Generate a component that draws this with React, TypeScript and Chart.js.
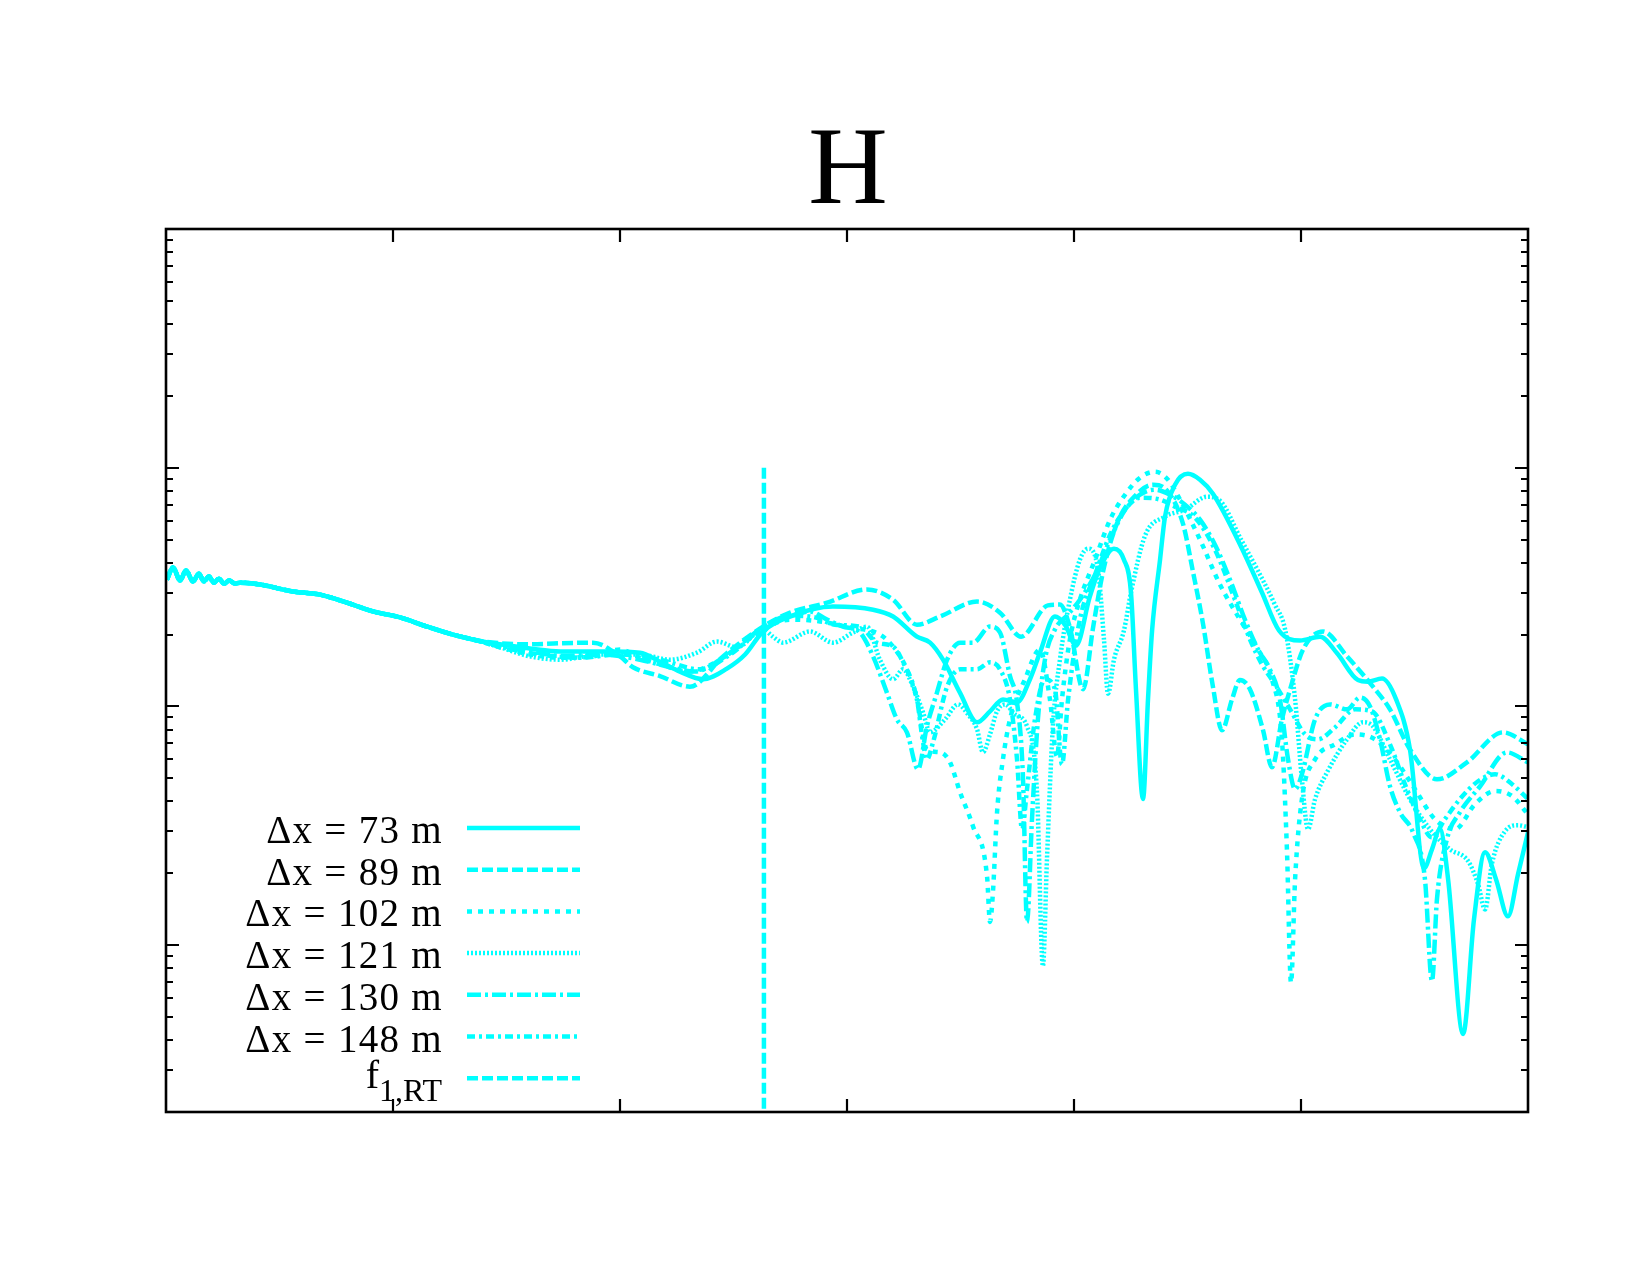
import React, { useEffect, useRef } from "react";
import { Chart, registerables } from "chart.js";

Chart.register(...registerables);

// ---- labels ----
const titleText = "H";
const seriesLabels = ["Δx = 73 m", "Δx = 89 m", "Δx = 102 m", "Δx = 121 m", "Δx = 130 m", "Δx = 148 m"];
const markerLabelMain = "f";
const markerLabelSub = "1,RT";

// ---- axis ranges / ticks ----
const xMin = 0;
const xMax = 6;
const xMajorTicks = [1, 2, 3, 4, 5];
const yMin = 0.2;
const yMax = 1000;
const yDecades = [0.1, 1, 10, 100];

// ---- shared low-frequency part (all runs coincide here) ----
const sharedX = [0.004, 0.031, 0.062, 0.088, 0.119, 0.145, 0.167, 0.189, 0.211, 0.233, 0.256, 0.278, 0.304, 0.326, 0.414, 0.559, 0.678, 0.797, 0.912, 1.031, 1.150, 1.264, 1.370];
const sharedY = [34.0, 38.2, 33.7, 37.1, 33.4, 36.0, 33.4, 35.0, 33.0, 34.3, 32.7, 33.7, 32.7, 33.0, 32.4, 30.3, 29.4, 27.2, 25.0, 23.6, 21.6, 20.0, 18.9];

// ---- Δx = 73 m ----
const dx73X = [1.471, 1.604, 1.736, 1.956, 2.088, 2.176, 2.264, 2.366, 2.471, 2.551, 2.630, 2.749, 2.938, 3.115, 3.203, 3.308, 3.366, 3.423, 3.498, 3.573, 3.630, 3.687, 3.749, 3.806, 3.850, 3.916, 3.960, 4.009, 4.070, 4.115, 4.176, 4.220, 4.251, 4.273, 4.304, 4.326, 4.344, 4.379, 4.401, 4.445, 4.502, 4.555, 4.612, 4.736, 4.828, 4.903, 4.996, 5.084, 5.159, 5.251, 5.295, 5.357, 5.419, 5.480, 5.542, 5.577, 5.612, 5.648, 5.714, 5.762, 5.811, 5.859, 5.912, 5.956, 6.000];
const dx73Y = [18.2, 17.5, 17.0, 17.0, 16.8, 15.4, 14.0, 13.0, 14.4, 16.5, 20.6, 23.8, 26.2, 25.4, 23.8, 19.6, 18.5, 15.7, 11.4, 8.58, 9.54, 10.7, 10.4, 13.0, 16.8, 23.8, 22.0, 18.0, 28.9, 38.2, 45.8, 41.2, 30.0, 11.8, 4.09, 10.7, 20.8, 41.2, 62.4, 84.9, 94.4, 89.1, 77.8, 46.7, 30.0, 20.8, 18.9, 19.6, 16.7, 12.9, 12.7, 13.1, 10.7, 6.61, 2.10, 2.52, 3.06, 1.89, 0.424, 1.28, 2.45, 1.89, 1.32, 1.98, 2.97];

// ---- Δx = 89 m ----
const dx89X = [1.471, 1.590, 1.736, 1.881, 2.000, 2.057, 2.176, 2.308, 2.454, 2.630, 2.749, 2.912, 3.088, 3.203, 3.308, 3.410, 3.573, 3.674, 3.767, 3.885, 3.938, 3.982, 4.040, 4.084, 4.128, 4.189, 4.278, 4.348, 4.410, 4.480, 4.524, 4.568, 4.612, 4.652, 4.696, 4.731, 4.775, 4.833, 4.872, 4.916, 4.952, 5.009, 5.097, 5.203, 5.317, 5.392, 5.480, 5.599, 5.731, 5.890, 6.000];
const dx89Y = [18.4, 18.2, 18.4, 18.5, 16.2, 14.6, 13.4, 12.1, 16.2, 21.6, 24.7, 27.2, 30.9, 28.0, 22.0, 23.8, 27.5, 24.7, 19.6, 26.5, 26.7, 21.4, 11.8, 21.4, 36.7, 58.3, 77.8, 84.9, 80.1, 58.3, 36.7, 22.3, 12.1, 7.94, 10.7, 12.9, 11.8, 7.94, 5.56, 8.83, 11.8, 17.3, 20.6, 16.2, 12.1, 9.72, 6.61, 4.95, 5.83, 7.79, 6.94];

// ---- Δx = 102 m ----
const dx102X = [1.471, 1.604, 1.736, 1.881, 2.000, 2.088, 2.176, 2.308, 2.441, 2.630, 2.749, 2.881, 3.013, 3.145, 3.203, 3.264, 3.308, 3.352, 3.410, 3.454, 3.498, 3.555, 3.617, 3.630, 3.643, 3.661, 3.687, 3.718, 3.784, 3.850, 3.894, 3.925, 3.947, 3.982, 4.026, 4.093, 4.159, 4.225, 4.291, 4.357, 4.414, 4.467, 4.555, 4.643, 4.731, 4.811, 4.872, 4.916, 4.938, 4.956, 4.974, 5.004, 5.062, 5.150, 5.238, 5.326, 5.414, 5.502, 5.590, 5.678, 5.767, 5.855, 5.930, 6.000];
const dx102Y = [17.7, 16.5, 16.0, 16.2, 17.3, 16.0, 15.0, 14.0, 15.7, 21.0, 23.1, 22.7, 21.4, 20.0, 17.8, 14.3, 10.7, 6.61, 6.42, 5.83, 4.37, 3.15, 1.94, 1.25, 1.67, 3.60, 6.00, 8.83, 13.0, 17.3, 10.7, 6.18, 10.7, 19.1, 28.0, 41.2, 60.6, 77.1, 90.8, 96.2, 89.1, 73.5, 50.0, 32.4, 23.1, 17.3, 13.0, 7.28, 2.52, 0.695, 1.89, 4.09, 6.00, 6.94, 7.64, 7.28, 6.00, 4.50, 3.37, 3.06, 3.90, 4.42, 4.21, 3.53];

// ---- Δx = 121 m ----
const dx121X = [1.471, 1.604, 1.736, 1.912, 2.088, 2.220, 2.339, 2.427, 2.515, 2.630, 2.674, 2.718, 2.837, 2.938, 3.026, 3.088, 3.145, 3.203, 3.247, 3.291, 3.335, 3.366, 3.432, 3.489, 3.533, 3.573, 3.599, 3.630, 3.661, 3.696, 3.740, 3.793, 3.837, 3.863, 3.881, 3.907, 3.938, 3.982, 4.026, 4.062, 4.106, 4.132, 4.150, 4.176, 4.220, 4.251, 4.313, 4.401, 4.489, 4.586, 4.643, 4.736, 4.819, 4.885, 4.930, 4.974, 5.004, 5.031, 5.062, 5.115, 5.203, 5.273, 5.317, 5.392, 5.480, 5.568, 5.656, 5.736, 5.780, 5.811, 5.841, 5.899, 5.956, 6.000];
const dx121Y = [17.7, 16.2, 15.7, 16.5, 16.5, 15.7, 16.8, 18.7, 17.7, 21.0, 19.6, 18.5, 20.6, 18.5, 20.4, 21.6, 15.7, 13.0, 14.3, 12.1, 9.44, 7.79, 8.83, 10.2, 9.26, 8.01, 6.42, 7.64, 9.54, 10.2, 9.26, 8.25, 4.37, 0.818, 2.30, 8.25, 15.7, 28.0, 41.2, 45.8, 37.4, 19.1, 11.3, 15.7, 20.8, 30.0, 51.9, 62.4, 66.7, 75.6, 72.8, 50.0, 35.7, 26.7, 21.0, 10.7, 4.95, 3.06, 4.09, 5.30, 7.28, 8.58, 8.25, 6.00, 4.09, 3.06, 2.52, 2.25, 1.80, 1.41, 2.19, 3.00, 3.18, 3.12];

// ---- Δx = 130 m ----
const dx130X = [1.471, 1.604, 1.736, 1.912, 2.088, 2.220, 2.330, 2.441, 2.630, 2.749, 2.837, 2.912, 2.982, 3.057, 3.115, 3.176, 3.220, 3.264, 3.313, 3.352, 3.396, 3.441, 3.498, 3.555, 3.630, 3.674, 3.718, 3.749, 3.775, 3.793, 3.815, 3.841, 3.872, 3.916, 3.974, 4.026, 4.093, 4.159, 4.225, 4.291, 4.357, 4.423, 4.489, 4.555, 4.621, 4.687, 4.753, 4.811, 4.863, 4.907, 4.943, 4.974, 5.004, 5.062, 5.128, 5.203, 5.260, 5.304, 5.348, 5.392, 5.436, 5.493, 5.546, 5.577, 5.599, 5.643, 5.700, 5.789, 5.907, 6.000];
const dx130Y = [18.0, 17.0, 16.3, 16.5, 15.7, 14.6, 14.0, 15.7, 21.4, 23.8, 25.0, 23.1, 21.6, 20.4, 16.2, 11.4, 8.83, 7.79, 5.45, 8.25, 11.4, 15.7, 18.5, 18.5, 21.6, 20.4, 13.4, 10.4, 5.10, 1.25, 3.37, 8.83, 15.7, 21.0, 24.3, 28.0, 35.7, 50.0, 66.7, 77.1, 80.9, 77.1, 70.0, 60.6, 47.6, 34.0, 23.1, 17.3, 14.3, 10.7, 6.00, 4.50, 5.20, 8.83, 10.2, 9.72, 10.9, 10.0, 7.28, 4.63, 3.60, 2.97, 1.89, 0.708, 1.56, 2.78, 3.60, 4.63, 6.42, 5.83];

// ---- Δx = 148 m ----
const dx148X = [1.471, 1.648, 1.824, 2.000, 2.176, 2.352, 2.485, 2.630, 2.749, 2.859, 2.947, 3.057, 3.132, 3.203, 3.247, 3.308, 3.335, 3.352, 3.379, 3.441, 3.498, 3.573, 3.630, 3.674, 3.718, 3.749, 3.771, 3.793, 3.828, 3.872, 3.916, 3.947, 3.974, 4.026, 4.093, 4.159, 4.225, 4.291, 4.379, 4.445, 4.533, 4.621, 4.709, 4.775, 4.828, 4.885, 4.952, 5.018, 5.075, 5.150, 5.238, 5.313, 5.392, 5.458, 5.524, 5.577, 5.634, 5.700, 5.780, 5.855, 5.930, 6.000];
const dx148Y = [17.8, 16.5, 16.0, 16.5, 15.7, 14.3, 16.5, 21.4, 24.0, 23.6, 22.0, 21.6, 18.5, 17.8, 15.3, 10.7, 7.07, 6.00, 7.07, 12.1, 14.3, 14.3, 15.3, 14.3, 10.7, 6.00, 3.06, 4.50, 8.83, 13.0, 11.8, 5.72, 10.7, 23.1, 35.7, 52.4, 66.7, 74.9, 73.5, 68.7, 61.8, 45.4, 28.0, 19.1, 15.0, 12.4, 9.72, 7.64, 7.28, 8.17, 9.72, 9.54, 6.94, 4.72, 3.37, 2.83, 3.37, 4.09, 4.86, 5.20, 4.72, 4.09];

// ---- f_1,RT marker ----
const f1X = [2.634, 2.634];
const f1Y = [100, 0.2];

// ---- styles ----
const CYAN = "rgb(0,255,255)";
const seriesDashes = [[], [11, 4], [5, 6], [2, 2], [14, 4, 3, 4], [8, 4, 3, 4]];
const markerDash = [11, 4];

const seriesX = [dx73X, dx89X, dx102X, dx121X, dx130X, dx148X];
const seriesY = [dx73Y, dx89Y, dx102Y, dx121Y, dx130Y, dx148Y];

function toPoints(xs: number[], ys: number[]) {
  return xs.map((x, i) => ({ x, y: ys[i] }));
}

const SERIF = '"Liberation Serif", "DejaVu Serif", serif';

const gnuplotPlugin = {
  id: "gnuplotDecor",
  afterDraw(chart: any) {
    const { ctx, chartArea: a, scales } = chart;
    const xs = scales.x;
    const ys = scales.y;
    ctx.save();
    ctx.setLineDash([]);
    ctx.strokeStyle = "#000";
    ctx.lineCap = "butt";

    // y ticks (inside, mirrored)
    ctx.lineWidth = 2.2;
    for (const dec of yDecades) {
      for (let m = 1; m <= 9; m++) {
        const v = m * dec;
        if (v <= yMin + 1e-9 || v >= yMax - 1e-9) continue;
        const py = Math.round(ys.getPixelForValue(v));
        const len = m === 1 ? 13 : 7;
        ctx.beginPath();
        ctx.moveTo(a.left, py);
        ctx.lineTo(a.left + len, py);
        ctx.moveTo(a.right, py);
        ctx.lineTo(a.right - len, py);
        ctx.stroke();
      }
    }
    // x ticks
    for (const v of xMajorTicks) {
      const px = Math.round(xs.getPixelForValue(v));
      ctx.beginPath();
      ctx.moveTo(px, a.bottom);
      ctx.lineTo(px, a.bottom - 13);
      ctx.moveTo(px, a.top);
      ctx.lineTo(px, a.top + 13);
      ctx.stroke();
    }
    // frame
    ctx.lineWidth = 2.6;
    ctx.strokeRect(a.left, a.top, a.right - a.left, a.bottom - a.top);

    // title
    ctx.fillStyle = "#000";
    ctx.font = "110px " + SERIF;
    ctx.textAlign = "center";
    ctx.textBaseline = "alphabetic";
    ctx.fillText(titleText, (a.left + a.right) / 2 + 1, 203);

    // legend
    const textRight = 442;
    const lineX0 = 467;
    const lineX1 = 580;
    const rowY0 = 828;
    const rowStep = 41.7;
    const datasets = chart.data.datasets;
    for (let i = 0; i < datasets.length; i++) {
      const ds = datasets[i];
      const cy = rowY0 + i * rowStep;
      ctx.fillStyle = "#000";
      ctx.textAlign = "right";
      if (i < seriesLabels.length) {
        ctx.font = "39px " + SERIF;
        (ctx as any).letterSpacing = "1.3px";
        ctx.fillText(ds.label, textRight + 1, cy + 15);
        (ctx as any).letterSpacing = "0px";
      } else {
        ctx.font = "32px " + SERIF;
        const subW = ctx.measureText(markerLabelSub).width;
        ctx.fillText(markerLabelSub, textRight, cy + 23);
        ctx.font = "40px " + SERIF;
        ctx.fillText(markerLabelMain, textRight - subW, cy + 10);
      }
      ctx.strokeStyle = CYAN;
      ctx.lineWidth = 4.5;
      ctx.setLineDash(ds.borderDash || []);
      ctx.beginPath();
      ctx.moveTo(lineX0, cy);
      ctx.lineTo(lineX1, cy);
      ctx.stroke();
      ctx.setLineDash([]);
    }
    ctx.restore();
  },
};

export default function App() {
  const canvasRef = useRef<HTMLCanvasElement | null>(null);

  useEffect(() => {
    const canvas = canvasRef.current;
    if (!canvas) return;
    const datasets: any[] = seriesLabels.map((label, i) => ({
      label,
      data: toPoints(sharedX.concat(seriesX[i]), sharedY.concat(seriesY[i])),
      borderColor: CYAN,
      backgroundColor: CYAN,
      borderWidth: 4.5,
      borderDash: seriesDashes[i],
      borderCapStyle: "butt",
      borderJoinStyle: "round",
      pointRadius: 0,
      fill: false,
      cubicInterpolationMode: "monotone",
    }));
    datasets.push({
      label: "f1,RT",
      data: toPoints(f1X, f1Y),
      borderColor: CYAN,
      backgroundColor: CYAN,
      borderWidth: 4.5,
      borderDash: markerDash,
      borderCapStyle: "butt",
      pointRadius: 0,
      fill: false,
      tension: 0,
    });

    const chart = new Chart(canvas, {
      type: "line",
      data: { datasets },
      options: {
        animation: false,
        responsive: false,
        devicePixelRatio: 1,
        layout: { padding: { left: 166, top: 229, right: 122, bottom: 163 } },
        scales: {
          x: { type: "linear", min: xMin, max: xMax, display: false },
          y: { type: "logarithmic", min: yMin, max: yMax, display: false },
        },
        plugins: {
          legend: { display: false },
          title: { display: false },
          tooltip: { enabled: false },
        },
        events: [],
      },
      plugins: [gnuplotPlugin],
    } as any);
    return () => chart.destroy();
  }, []);

  return (
    <div style={{ position: "fixed", left: 0, top: 0, width: 1650, height: 1275, background: "#fff" }}>
      <canvas ref={canvasRef} width={1650} height={1275} style={{ width: 1650, height: 1275, display: "block" }} />
    </div>
  );
}
